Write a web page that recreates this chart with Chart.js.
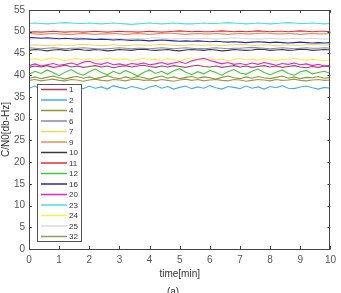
<!DOCTYPE html>
<html><head><meta charset="utf-8">
<script src="https://cdn.jsdelivr.net/npm/chart.js@4"></script>
<style>html,body{margin:0;padding:0;background:#fff}#wrap{width:341px;height:293px}</style>
</head><body><div id="wrap"><canvas id="c" width="341" height="293"></canvas></div>
<script>
const time = [0,0.2,0.4,0.6,0.8,1,1.2,1.4,1.6,1.8,2,2.2,2.4,2.6,2.8,3,3.2,3.4,3.6,3.8,4,4.2,4.4,4.6,4.8,5,5.2,5.4,5.6,5.8,6,6.2,6.4,6.6,6.8,7,7.2,7.4,7.6,7.8,8,8.2,8.4,8.6,8.8,9,9.2,9.4,9.6,9.8,10];
const prnLabels = ['1','2','4','6','7','9','10','11','12','16','20','23','24','25','32'];
const s1 = [41.8,42.1,41.9,42.2,41.8,42.0,42.3,41.9,42.1,41.8,42.0,42.2,41.9,42.1,41.7,42.0,42.2,41.9,42.1,42.3,42.0,41.8,42.1,41.9,42.2,42.0,41.8,42.1,42.3,42.0,41.9,42.1,41.8,42.0,42.2,41.9,42.1,41.8,42.0,42.2,41.9,42.1,41.8,42.0,42.2,41.9,41.7,42.0,41.8,42.1,41.9];
const s2 = [37.0,37.5,36.8,37.3,37.6,37.1,36.7,37.4,37.2,36.9,37.5,37.0,37.3,36.8,37.6,37.2,36.9,37.4,37.1,36.7,37.3,37.6,37.0,37.4,36.8,37.2,37.5,36.9,37.3,37.0,37.6,37.1,36.8,37.4,37.2,36.9,37.5,37.0,37.3,36.8,37.4,37.1,37.6,37.0,36.9,37.3,37.5,37.1,36.8,37.2,37.0];
const s4 = [39.3,39.6,39.2,39.5,39.8,39.4,39.1,39.5,39.7,39.3,39.6,39.2,39.5,39.9,39.4,39.2,39.6,39.3,39.7,39.4,39.1,39.5,39.8,39.3,39.6,39.2,39.5,39.7,39.3,39.6,39.4,39.1,39.5,39.8,39.4,39.2,39.6,39.3,39.7,39.4,39.2,39.5,39.8,39.3,39.6,39.2,39.5,39.4,39.7,39.3,39.5];
const s6 = [46.3,46.2,46.1,46.2,46.3,46.2,46.1,46.2,46.2,46.3,46.2,46.1,46.0,46.1,46.2,46.3,46.2,46.1,46.2,46.2,46.1,46.2,46.3,46.2,46.1,46.2,46.3,46.2,46.1,46.1,46.2,46.3,46.2,46.1,46.2,46.2,46.3,46.4,46.3,46.2,46.1,46.2,46.3,46.2,46.1,46.2,46.3,46.2,46.2,46.3,46.2];
const s7 = [46.9,47.0,46.9,46.8,46.9,47.0,46.9,46.9,47.0,47.1,47.0,46.9,46.8,46.9,47.0,46.9,46.8,46.9,47.0,46.9,46.9,47.0,47.1,47.0,46.9,46.8,46.9,47.0,46.9,46.9,47.0,46.9,46.8,46.9,47.0,47.1,47.0,46.9,46.9,47.0,46.9,46.8,46.9,47.0,46.9,46.9,47.0,47.1,47.0,46.9,47.0];
const s9 = [49.6,49.5,49.4,49.5,49.6,49.5,49.4,49.4,49.5,49.6,49.5,49.4,49.5,49.5,49.6,49.5,49.4,49.5,49.6,49.5,49.4,49.5,49.6,49.7,49.6,49.5,49.4,49.5,49.6,49.5,49.5,49.6,49.5,49.4,49.5,49.6,49.5,49.5,49.6,49.7,49.6,49.5,49.5,49.6,49.5,49.4,49.5,49.6,49.5,49.5,49.6];
const s10 = [45.7,45.9,45.8,45.6,45.8,45.9,45.7,45.8,46.0,45.8,45.7,45.9,45.8,45.6,45.7,45.9,45.8,45.7,45.9,46.0,45.8,45.7,45.8,45.9,45.7,45.6,45.8,45.9,45.8,45.7,45.9,45.8,45.6,45.7,45.9,45.8,45.7,45.8,46.0,45.9,45.7,45.8,45.9,45.7,45.8,46.0,45.9,45.7,45.8,45.9,45.8];
const s11 = [49.9,50.0,49.9,50.0,50.1,50.0,49.9,50.0,50.0,49.9,50.0,50.1,50.0,49.9,50.0,50.1,50.0,50.0,49.9,50.0,50.1,50.0,49.9,50.0,50.1,50.2,50.1,50.0,50.1,50.0,50.0,50.1,50.2,50.1,50.0,50.1,50.0,50.1,50.2,50.1,50.0,50.1,50.1,50.0,50.1,50.2,50.1,50.0,50.1,50.1,50.0];
const s12 = [40.2,40.9,40.4,41.2,40.6,39.9,40.7,41.3,40.5,40.0,40.8,41.4,40.6,40.1,40.9,40.3,41.1,40.5,39.8,40.6,41.2,40.4,40.9,40.2,41.0,41.5,40.7,40.1,40.8,40.3,41.1,40.6,40.0,40.8,41.3,40.5,40.2,40.9,41.4,40.6,40.1,40.7,41.2,40.4,40.0,40.8,41.1,40.3,40.6,40.9,40.4];
const s16 = [48.7,48.6,48.5,48.6,48.5,48.4,48.5,48.4,48.3,48.4,48.3,48.2,48.3,48.2,48.1,48.2,48.1,48.0,48.1,48.0,47.9,48.0,48.1,48.0,47.9,47.8,47.9,47.8,47.9,47.8,47.7,47.8,47.7,47.6,47.7,47.6,47.5,47.6,47.7,47.6,47.5,47.6,47.5,47.4,47.5,47.6,47.5,47.4,47.5,47.4,47.5];
const s20 = [42.2,42.6,42.1,42.4,42.7,42.3,42.5,42.8,42.4,43.0,43.2,42.7,42.5,42.9,42.4,42.6,42.3,42.7,42.5,42.8,42.4,42.6,42.9,42.5,42.8,43.1,42.7,43.3,43.6,43.9,43.4,43.0,42.6,42.9,42.5,42.7,42.4,42.8,42.5,42.9,42.6,42.3,42.7,42.5,42.8,42.4,42.6,42.2,42.5,42.1,42.3];
const s23 = [51.9,52.0,51.9,51.8,51.9,52.0,52.1,52.0,51.9,51.9,52.0,51.9,51.8,51.9,52.0,51.9,51.8,51.7,51.8,51.9,52.0,51.9,51.8,51.9,52.0,51.9,51.8,51.8,51.9,52.0,51.9,51.9,52.0,52.1,52.0,51.9,51.8,51.9,52.0,51.9,51.8,51.9,52.0,52.1,52.0,51.9,51.9,52.0,51.9,51.8,51.9];
const s24 = [43.5,43.8,43.4,43.7,44.0,43.6,43.3,43.7,43.9,43.5,43.8,43.4,43.6,44.0,43.7,43.5,43.8,43.3,43.6,43.9,43.5,43.7,43.4,43.8,43.6,43.3,43.7,44.0,43.6,43.4,43.8,43.5,43.7,43.3,43.6,43.9,43.5,43.7,43.4,43.8,43.6,43.3,43.7,43.5,43.9,43.6,43.4,43.7,43.5,43.3,43.6];
const s25 = [48.3,48.4,48.5,48.4,48.3,48.4,48.4,48.5,48.6,48.5,48.4,48.3,48.4,48.5,48.4,48.4,48.3,48.4,48.5,48.4,48.5,48.6,48.5,48.4,48.3,48.4,48.5,48.4,48.4,48.5,48.4,48.3,48.4,48.5,48.6,48.5,48.4,48.4,48.3,48.4,48.5,48.4,48.3,48.4,48.5,48.4,48.4,48.5,48.4,48.3,48.4];
const s32 = [38.8,39.0,38.7,38.9,39.1,38.8,38.7,39.0,38.9,38.6,38.9,39.1,38.8,38.7,39.0,38.9,38.7,39.0,39.1,38.8,38.9,38.7,39.0,38.8,38.6,38.9,39.1,38.8,39.0,38.7,38.9,39.0,38.8,38.7,39.0,38.9,38.6,38.8,39.0,38.9,38.7,39.0,38.8,38.9,39.1,38.8,38.7,38.9,39.0,38.8,38.9];
const yTicks = [0,5,10,15,20,25,30,35,40,45,50,55];
const xTicks = [0,1,2,3,4,5,6,7,8,9,10];

const seriesValues = [s1,s2,s4,s6,s7,s9,s10,s11,s12,s16,s20,s23,s24,s25,s32];
const colors = ['#b0405a','#3fb0e0','#8a9a2a','#8a86b8','#f0d860','#f08a5a','#3a3a3a','#e03030','#3cc83c','#2828a0','#e020d8','#48e0d8','#f8f040','#d8d8d8','#98985a'];
const FONT = '"Liberation Sans", Arial, sans-serif';

const datasets = seriesValues.map((vals,i)=>({
  label: prnLabels[i],
  data: vals.map((v,j)=>({x: time[j], y: v})),
  borderColor: colors[i],
  borderWidth: 1.1,
  pointRadius: 0,
  fill: false,
  tension: 0
}));

const boxPlugin = {
  id: 'box',
  afterDatasetsDraw(chart){
    const {ctx, chartArea:a, scales:{x,y}} = chart;
    ctx.save();
    ctx.strokeStyle = '#444';
    ctx.lineWidth = 1;
    ctx.strokeRect(Math.round(a.left)+0.5, Math.round(a.top)+0.5, Math.round(a.right-a.left)-1, Math.round(a.bottom-a.top));
    ctx.beginPath();
    xTicks.forEach(t=>{
      const px = Math.round(x.getPixelForValue(t))+0.5;
      ctx.moveTo(px, a.bottom); ctx.lineTo(px, a.bottom-3);
      ctx.moveTo(px, a.top); ctx.lineTo(px, a.top+3);
    });
    yTicks.forEach(t=>{
      const py = Math.round(y.getPixelForValue(t))+0.5;
      ctx.moveTo(a.left, py); ctx.lineTo(a.left+3, py);
      ctx.moveTo(a.right, py); ctx.lineTo(a.right-3, py);
    });
    ctx.stroke();
    // legend box
    const lx = 37, ly = 84, lw = 44, lh = 157;
    ctx.fillStyle = '#fff';
    ctx.fillRect(lx, ly, lw, lh);
    ctx.strokeStyle = '#555';
    ctx.strokeRect(lx+0.5, ly+0.5, lw, lh);
    ctx.font = '8px ' + FONT;
    ctx.textBaseline = 'middle';
    ctx.textAlign = 'left';
    chart.data.datasets.forEach((ds,i)=>{
      const yy = ly + 5.5 + i*10.5;
      ctx.strokeStyle = ds.borderColor;
      ctx.lineWidth = 1.5;
      ctx.beginPath(); ctx.moveTo(lx+4, yy); ctx.lineTo(lx+30, yy); ctx.stroke();
      ctx.fillStyle = '#333';
      ctx.fillText(ds.label, lx+32, yy+0.5);
    });
    ctx.fillStyle = '#333';
    ctx.font = '10px ' + FONT;
    ctx.textAlign = 'center';
    ctx.fillText('(a)', 173, 292);
    ctx.restore();
  }
};

new Chart(document.getElementById('c'), {
  type: 'line',
  data: { datasets },
  options: {
    responsive: false,
    animation: false,
    layout: { padding: { left: 0, right: 6, top: 7, bottom: 0 } },
    plugins: { legend: { display: false }, tooltip: { enabled: false } },
    scales: {
      x: {
        type: 'linear', min: 0, max: 10,
        afterFit(s){ s.height = 44; },
        afterBuildTicks(s){ s.ticks = xTicks.map(v=>({value:v})); },
        grid: { display: false, drawTicks: false },
        border: { display: false },
        ticks: { padding: 5, color: '#555', font: { size: 10, family: FONT } },
        title: { display: true, text: 'time[min]', color: '#333', font: { size: 10, family: FONT }, padding: { top: 0, bottom: 13 } }
      },
      y: {
        type: 'linear', min: 0, max: 55,
        afterFit(s){ s.width = 29; },
        afterBuildTicks(s){ s.ticks = yTicks.map(v=>({value:v})); },
        grid: { display: false, drawTicks: false },
        border: { display: false },
        ticks: { padding: 4, color: '#555', font: { size: 10, family: FONT } },
        title: { display: true, text: 'C/N0[db-Hz]', color: '#333', font: { size: 10, family: FONT }, padding: { top: 0, bottom: 0 } }
      }
    }
  },
  plugins: [boxPlugin]
});
</script>
</body></html>
